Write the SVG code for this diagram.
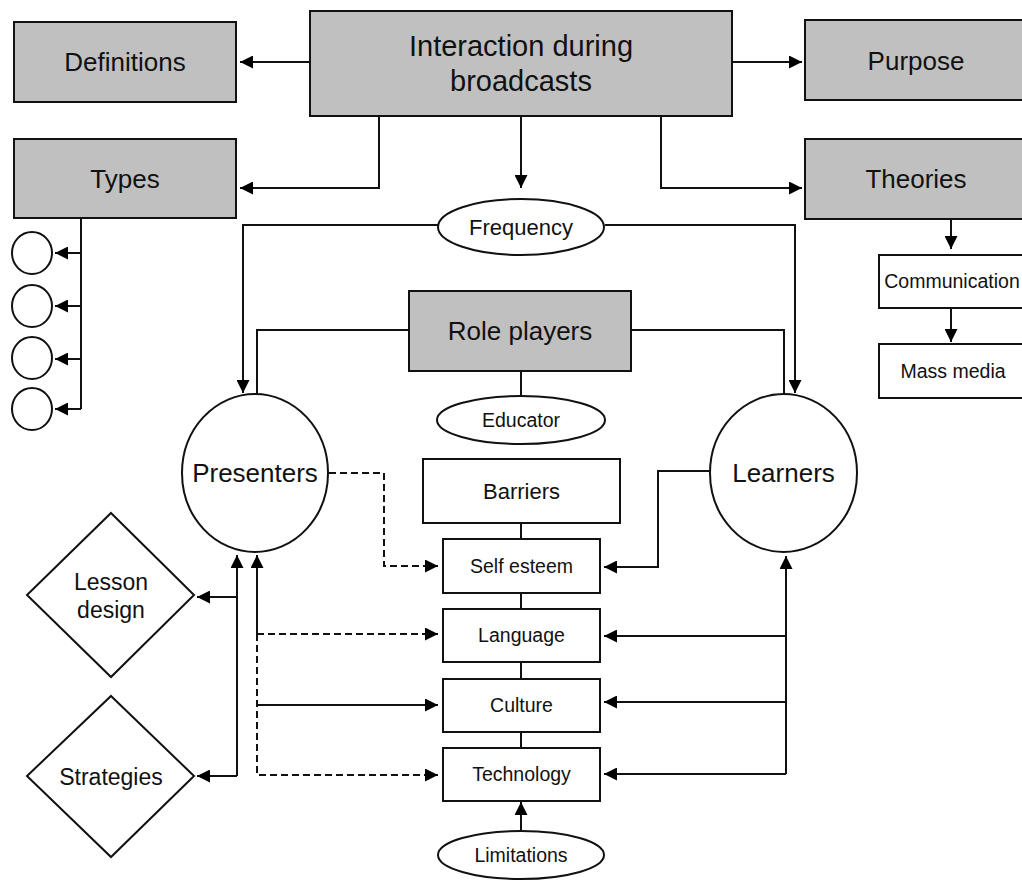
<svg xmlns="http://www.w3.org/2000/svg" width="1022" height="880" viewBox="0 0 1022 880">
<defs>
<marker id="ah" markerUnits="userSpaceOnUse" markerWidth="13" markerHeight="13" refX="13" refY="6.5" orient="auto">
<path d="M0,0 L13,6.5 L0,13 z" fill="#000"/>
</marker>
<style>
.g{fill:#c0c0c0;stroke:#111;stroke-width:2}
.w{fill:#fff;stroke:#111;stroke-width:2}
.c{fill:none;stroke:#111;stroke-width:2}
.a{marker-end:url(#ah)}
.d{stroke-dasharray:7 4}
text{font-family:"Liberation Sans",Arial,sans-serif;fill:#111;text-anchor:middle}
.t29{font-size:29px}
.t26{font-size:26px}
.t23{font-size:23px}
.t22{font-size:22px}
.t19{font-size:19.5px}
</style>
</defs>
<rect width="1022" height="880" fill="#fff"/>

<g id="connectors">
<path class="c a" d="M310,62 L240,62"/>
<path class="c a" d="M732,62 L802,62"/>
<path class="c a" d="M379,116 L379,188 L240,188"/>
<path class="c a" d="M661,116 L661,188 L802,188"/>
<path class="c a" d="M521,116 L521,188"/>
<path class="c" d="M81,218 L81,409"/>
<path class="c a" d="M81,253 L55,253"/>
<path class="c a" d="M81,306 L55,306"/>
<path class="c a" d="M81,359 L55,359"/>
<path class="c a" d="M81,409 L55,409"/>
<path class="c a" d="M438,225 L243,225 L243,393"/>
<path class="c a" d="M605,225 L795,225 L795,393"/>
<path class="c" d="M409,330 L257,330 L257,394"/>
<path class="c" d="M631,330 L784,330 L784,394"/>
<path class="c" d="M521,371 L521,396"/>
<path class="c" d="M521,523 L521,539"/>
<path class="c" d="M521,593 L521,609"/>
<path class="c" d="M521,662 L521,679"/>
<path class="c" d="M521,732 L521,748"/>
<path class="c a" d="M521,831 L521,802"/>
<path class="c a" d="M951,219 L951,249"/>
<path class="c a" d="M951,308 L951,342"/>
<path class="c d a" d="M329,473 L384,473 L384,566 L438,566"/>
<path class="c a" d="M710,471 L658,471 L658,567 L604,567"/>
<path class="c a" d="M786,774 L786,556"/>
<path class="c a" d="M786,636 L604,636"/>
<path class="c a" d="M786,702 L604,702"/>
<path class="c a" d="M786,774 L604,774"/>
<path class="c a" d="M237,776 L237,555"/>
<path class="c a" d="M237,597 L197,597"/>
<path class="c a" d="M237,776 L197,776"/>
<path class="c a" d="M257,634 L257,555"/>
<path class="c d a" d="M257,634 L438,634"/>
<path class="c d a" d="M257,634 L257,775 L438,775"/>
<path class="c a" d="M257,705 L438,705"/>
</g>

<g id="interaction">
<rect class="g" x="310" y="11" width="422" height="105"/>
<text class="t29" x="521" y="56">Interaction during</text>
<text class="t29" x="521" y="91">broadcasts</text>
</g>
<g id="definitions">
<rect class="g" x="14" y="22" width="222" height="80"/>
<text class="t26" x="125" y="71">Definitions</text>
</g>
<g id="types">
<rect class="g" x="14" y="139" width="222" height="79"/>
<text class="t26" x="125" y="188">Types</text>
</g>
<g id="purpose">
<rect class="g" x="805" y="20" width="222" height="80"/>
<text class="t26" x="916" y="70">Purpose</text>
</g>
<g id="theories">
<rect class="g" x="805" y="139" width="222" height="80"/>
<text class="t26" x="916" y="188">Theories</text>
</g>
<g id="communication">
<rect class="w" x="879" y="255" width="147" height="53"/>
<text class="t19" x="952" y="288">Communication</text>
</g>
<g id="mass-media">
<rect class="w" x="879" y="344" width="147" height="54"/>
<text class="t19" x="953" y="378">Mass media</text>
</g>
<g id="type-circles">
<ellipse class="w" cx="32" cy="253" rx="20" ry="21"/>
<ellipse class="w" cx="32" cy="306" rx="20" ry="21"/>
<ellipse class="w" cx="32" cy="358" rx="20" ry="21"/>
<ellipse class="w" cx="32" cy="409" rx="20" ry="21"/>
</g>
<g id="frequency">
<ellipse class="w" cx="521" cy="227" rx="83" ry="28"/>
<text class="t22" x="521" y="235">Frequency</text>
</g>
<g id="role-players">
<rect class="g" x="409" y="291" width="222" height="80"/>
<text class="t26" x="520" y="340">Role players</text>
</g>
<g id="educator">
<ellipse class="w" cx="521" cy="420" rx="84" ry="24"/>
<text class="t19" x="521" y="427">Educator</text>
</g>
<g id="presenters">
<ellipse class="w" cx="255" cy="473" rx="73" ry="79"/>
<text class="t26" x="255" y="482">Presenters</text>
</g>
<g id="learners">
<ellipse class="w" cx="783.5" cy="473" rx="73.5" ry="79"/>
<text class="t26" x="783.5" y="482">Learners</text>
</g>
<g id="barriers">
<rect class="w" x="423" y="459" width="197" height="64"/>
<text class="t22" x="521.5" y="499">Barriers</text>
</g>
<g id="self-esteem">
<rect class="w" x="443" y="539" width="157" height="54"/>
<text class="t19" x="521.5" y="573">Self esteem</text>
</g>
<g id="language">
<rect class="w" x="443" y="609" width="157" height="53"/>
<text class="t19" x="521.5" y="642">Language</text>
</g>
<g id="culture">
<rect class="w" x="443" y="679" width="157" height="53"/>
<text class="t19" x="521.5" y="712">Culture</text>
</g>
<g id="technology">
<rect class="w" x="443" y="748" width="157" height="53"/>
<text class="t19" x="521.5" y="781">Technology</text>
</g>
<g id="limitations">
<ellipse class="w" cx="521" cy="855" rx="83" ry="24"/>
<text class="t19" x="521" y="862">Limitations</text>
</g>
<g id="lesson-design">
<polygon class="w" points="111,513 194,595 111,677 27,595"/>
<text class="t23" x="111" y="590">Lesson</text>
<text class="t23" x="111" y="618">design</text>
</g>
<g id="strategies">
<polygon class="w" points="111,696 194,776 111,857 27,776"/>
<text class="t23" x="111" y="785">Strategies</text>
</g>
</svg>
